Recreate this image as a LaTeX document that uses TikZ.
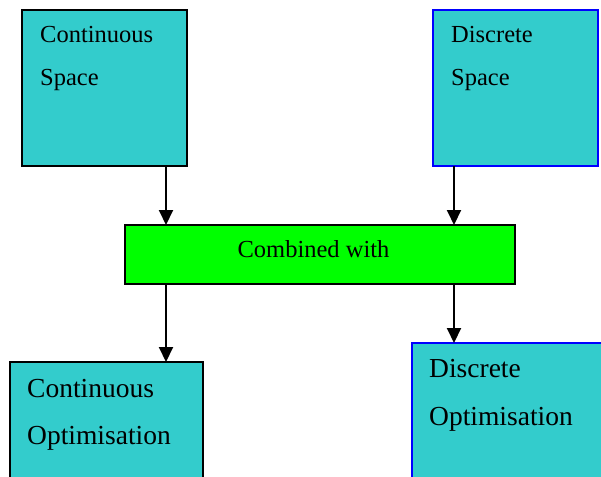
\documentclass[tikz,border=0pt]{standalone}
\usepackage{fontspec}
\setmainfont{Liberation Serif}
\usetikzlibrary{arrows.meta}
\definecolor{tealfill}{HTML}{33CCCC}
\definecolor{greenfill}{HTML}{00FF00}
\begin{document}
\begin{tikzpicture}[x=1pt,y=-1pt,
  box/.style={draw=black, line width=2pt, fill=tealfill, inner sep=0pt,
    outer sep=0pt, anchor=north west},
  bluebox/.style={box, draw=blue},
  greenbox/.style={box, fill=greenfill},
  smalltext/.style={anchor=base west, inner sep=0pt,
    font=\fontsize{24.5}{29}\selectfont},
  largetext/.style={anchor=base west, inner sep=0pt,
    font=\fontsize{27.5}{33}\selectfont},
  flow/.style={line width=2pt, -{Triangle[length=15pt,width=14pt]}}]
\useasboundingbox (0,0) rectangle (601,476);
\clip (0,0) rectangle (601,476);

% columns of the vertical connectors
\coordinate (colL) at (166,0);
\coordinate (colR) at (454,0);

% source spaces
\node[box, minimum width=165pt, minimum height=156pt] (cs) at (22,10) {};
\node[smalltext] (cs1) at (40,43) {Continuous};
\node[smalltext] (cs2) at (40,86) {Space};

\node[bluebox, minimum width=165pt, minimum height=156pt] (ds) at (433,10) {};
\node[smalltext] (ds1) at (451,43) {Discrete};
\node[smalltext] (ds2) at (451,86) {Space};

% combination step
\node[greenbox, minimum width=390pt, minimum height=59pt] (comb) at (125,225) {};
\node[anchor=base, inner sep=0pt, font=\fontsize{24.5}{29}\selectfont]
  (combt) at (313.5,257) {Combined with};

% resulting optimisation kinds
\node[box, minimum width=193pt, minimum height=150pt] (co) at (10,362) {};
\node[largetext] (co1) at (27,397) {Continuous};
\node[largetext] (co2) at (27,444) {Optimisation};

\node[bluebox, minimum width=200pt, minimum height=150pt] (do) at (412,343) {};
\node[largetext] (do1) at (429,377) {Discrete};
\node[largetext] (do2) at (429,425) {Optimisation};

% connectors
\draw[flow] (cs.south -| colL) -- (comb.north -| colL);
\draw[flow] (ds.south -| colR) -- (comb.north -| colR);
\draw[flow] (comb.south -| colL) -- (co.north -| colL);
\draw[flow] (comb.south -| colR) -- (do.north -| colR);
\end{tikzpicture}
\end{document}
